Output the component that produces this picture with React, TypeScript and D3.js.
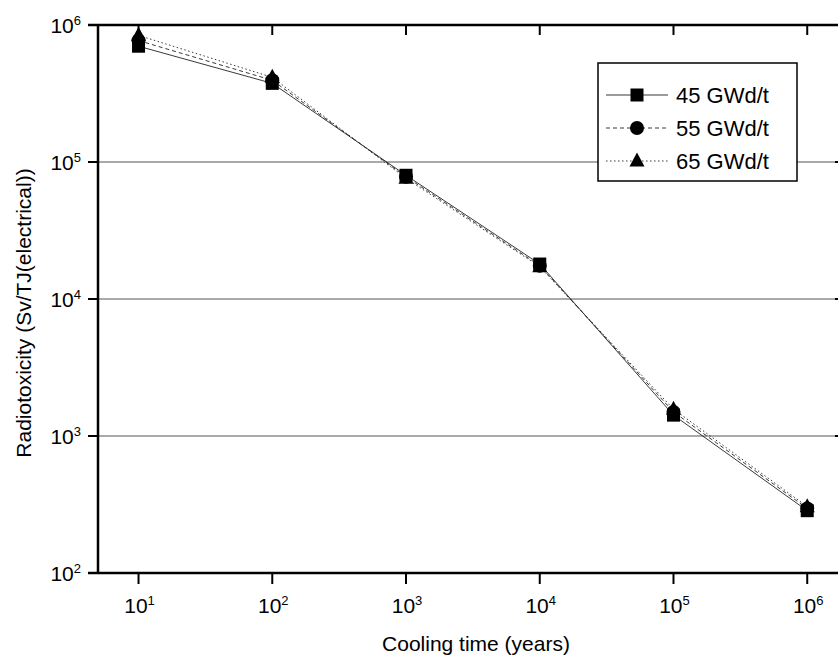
import React from 'react'
import * as d3 from 'd3'

const years = [1e1, 1e2, 1e3, 1e4, 1e5, 1e6]
const burnup45 = [7.0e5, 3.75e5, 8.0e4, 1.8e4, 1.42e3, 285]
const burnup55 = [7.7e5, 3.95e5, 7.8e4, 1.75e4, 1.5e3, 296]
const burnup65 = [8.4e5, 4.15e5, 7.6e4, 1.72e4, 1.57e3, 305]
const seriesNames = ['45 GWd/t', '55 GWd/t', '65 GWd/t']
const yTickExp = [2, 3, 4, 5, 6]
const xTickExp = [1, 2, 3, 4, 5, 6]
const gridExp = [3, 4, 5]

const W = 838
const H = 659
const left = 98
const right = 840
const top = 25
const bottom = 573

const x = d3.scaleLog().domain([Math.pow(10, 0.697), Math.pow(10, 6.245)]).range([left, right])
const y = d3.scaleLog().domain([1e2, 1e6]).range([bottom, top])

const font = '"Liberation Sans", Arial, sans-serif'
const dashes = ['none', '4,3', '1.5,2.5']

const Marker = ({ kind, cx, cy }: { kind: number; cx: number; cy: number }) => {
  if (kind === 0) return <rect x={cx - 6.5} y={cy - 6.5} width={13} height={13} fill='#000' />
  if (kind === 1) return <circle cx={cx} cy={cy} r={7} fill='#000' />
  return <path d={`M${cx},${cy - 8.5}L${cx + 7.5},${cy + 5.5}L${cx - 7.5},${cy + 5.5}Z`} fill='#000' />
}

const Pow = ({ px, py, exp, anchor }: { px: number; py: number; exp: number; anchor: string }) => (
  <text x={px} y={py} fontFamily={font} fontSize={21} textAnchor={anchor} fill='#000'>
    10<tspan fontSize={13} dy={-8}>{exp}</tspan>
  </text>
)

export default function App () {
  const series = [burnup45, burnup55, burnup65]
  const line = d3.line<number>()
    .x((d, i) => x(years[i]))
    .y(d => y(d))

  const legX = 598
  const legY = 63
  const rowY = (i: number) => legY + 32 + i * 33

  return (
    <svg width={W} height={H} viewBox={`0 0 ${W} ${H}`} style={{ position: 'absolute', left: 0, top: 0 }}>
      <rect width={W} height={H} fill='#fff' />
      {gridExp.map(e => (
        <line key={e} x1={left} x2={right} y1={y(Math.pow(10, e))} y2={y(Math.pow(10, e))} stroke='#555' strokeWidth={1.2} />
      ))}

      {series.map((s, k) => (
        <path key={k} d={line(s) || ''} fill='none' stroke='#222' strokeWidth={0.9} strokeDasharray={dashes[k]} />
      ))}
      {series.map((s, k) => s.map((v, i) => (
        <Marker key={`${k}-${i}`} kind={k} cx={x(years[i])} cy={y(v)} />
      )))}

      {/* frame */}
      <line x1={left} x2={left} y1={top} y2={bottom} stroke='#000' strokeWidth={2.5} />
      <line x1={left - 10} x2={right} y1={bottom} y2={bottom} stroke='#000' strokeWidth={2.5} />
      <line x1={left - 10} x2={right} y1={top} y2={top} stroke='#000' strokeWidth={2.5} />
      <line x1={right} x2={right} y1={top} y2={bottom} stroke='#000' strokeWidth={2.5} />

      {yTickExp.map(e => (
        <g key={e}>
          <line x1={left - 10} x2={left} y1={y(Math.pow(10, e))} y2={y(Math.pow(10, e))} stroke='#000' strokeWidth={2} />
          <line x1={right - 5} x2={right} y1={y(Math.pow(10, e))} y2={y(Math.pow(10, e))} stroke='#000' strokeWidth={2} />
          <Pow px={81} py={y(Math.pow(10, e)) + 8} exp={e} anchor='end' />
        </g>
      ))}
      {xTickExp.map(e => (
        <g key={e}>
          <line x1={x(Math.pow(10, e))} x2={x(Math.pow(10, e))} y1={bottom} y2={bottom + 11} stroke='#000' strokeWidth={2} />
          <line x1={x(Math.pow(10, e))} x2={x(Math.pow(10, e))} y1={top} y2={top + 10} stroke='#000' strokeWidth={2} />
          <Pow px={x(Math.pow(10, e)) + 1} py={bottom + 40} exp={e} anchor='middle' />
        </g>
      ))}

      <text x={476} y={651} fontFamily={font} fontSize={21} textAnchor='middle' fill='#000'>Cooling time (years)</text>
      <text transform={`translate(31,313) rotate(-90)`} fontFamily={font} fontSize={21} textAnchor='middle' fill='#000'>
        Radiotoxicity (Sv/TJ(electrical))
      </text>

      {/* legend */}
      <rect x={legX} y={legY} width={199} height={118} fill='#fff' stroke='#000' strokeWidth={1.5} />
      {seriesNames.map((n, i) => (
        <g key={n}>
          <line x1={legX + 8} x2={legX + 70} y1={rowY(i)} y2={rowY(i)} stroke='#222' strokeWidth={0.9} strokeDasharray={dashes[i]} />
          <Marker kind={i} cx={legX + 39} cy={rowY(i)} />
          <text x={legX + 78} y={rowY(i) + 8} fontFamily={font} fontSize={22} fill='#000'>{n}</text>
        </g>
      ))}
    </svg>
  )
}
